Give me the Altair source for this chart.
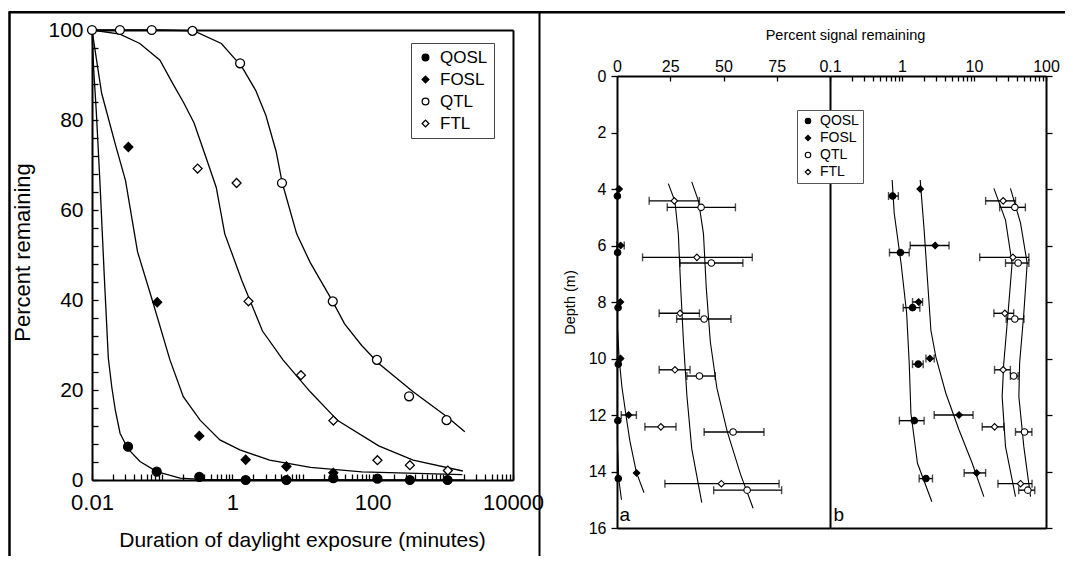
import altair as alt
import pandas as pd

FONT = "Liberation Sans"
W, H = 1057, 548

SERIES = ["QOSL", "FOSL", "QTL", "FTL"]
SHAPES = ["circle", "diamond", "circle", "diamond"]
FILLS = ["black", "black", "white", "white"]
STROKES = ["black", "black", "black", "black"]

# ---------------- left plot: bleaching vs daylight exposure ----------------
qosl_cx = [0.01, 0.0105, 0.0115, 0.0129, 0.015, 0.0171, 0.0192, 0.0215, 0.0251, 0.0326, 0.0483, 0.0836, 0.18, 0.4, 2000]
qosl_cy = [100, 92, 82, 67, 45, 27, 20.5, 15.5, 10.4, 6.9, 4.1, 1.85, 0.4, 0.1, 0]
fosl_cx = [0.01, 0.0137, 0.0215, 0.030, 0.0446, 0.0738, 0.129, 0.2, 0.347, 0.665, 1.28, 3.4, 13, 70, 1900]
fosl_cy = [100, 86, 74.6, 66.6, 50.7, 39.5, 26.7, 18.5, 13.3, 8.9, 6.7, 4.4, 2.8, 1.8, 1.2]
ftl_cx = [0.01, 0.025, 0.048, 0.093, 0.145, 0.2, 0.284, 0.445, 0.59, 0.78, 1.37, 2.69, 5.27, 12.9, 31.8, 122, 377, 1930]
ftl_cy = [100, 99.1, 97, 93.3, 87.8, 84, 79.4, 70.6, 65, 54.7, 44.3, 33.1, 26.7, 19.6, 13.2, 7.6, 4.4, 2.0]
qtl_cx = [0.01, 0.1, 0.284, 0.698, 1.37, 2.15, 3.01, 4.21, 5.15, 8.26, 12.9, 26.9, 39.8, 69.8, 122, 377, 1156, 2057]
qtl_cy = [100, 100, 99.8, 97, 91.8, 86.6, 81, 73, 66, 54.7, 48.3, 39.7, 34.7, 29.9, 25.9, 19.6, 14, 10.7]

qosl_px = [0.0326, 0.0836, 0.338, 1.55, 5.9, 27.5, 117, 339, 1167]
qosl_py = [7.4, 1.85, 0.7, 0, 0, 0.4, 0.3, 0, 0]
fosl_px = [0.033, 0.085, 0.338, 1.55, 5.9, 27.5]
fosl_py = [74, 39.5, 9.8, 4.5, 3.0, 1.6]
qtl_px = [0.01, 0.025, 0.071, 0.27, 1.29, 5.1, 27, 115, 330, 1130]
qtl_py = [100, 100, 100, 99.8, 92.6, 66, 39.7, 26.7, 18.6, 13.3]
ftl_px = [0.32, 1.15, 1.7, 9.5, 27.5, 117, 339, 1180]
ftl_py = [69.2, 66, 39.7, 23.3, 13.2, 4.4, 3.3, 2.1]

left_x_labels = [0.01, 1, 100, 10000]
left_y_labels = [0, 20, 40, 60, 80, 100]
left_y_minor = list(range(0, 101, 4))
left_x_minor = [m * 10.0 ** e for e in range(-2, 4) for m in range(1, 10)] + [10000]

# ---------------- right plots: depth profiles ----------------
depth_labels = list(range(0, 17, 2))
a_labels = [0, 25, 50, 75]
b_labels = [0.1, 1, 10, 100]
b_minor = [m * 10.0 ** e for e in range(-1, 2) for m in range(1, 10)] + [100]

d_qosl = [4.25, 6.25, 8.2, 10.2, 12.2, 14.25]
d_fosl = [4.0, 6.0, 8.0, 10.0, 12.0, 14.05]
d_ftl = [4.42, 6.42, 8.4, 10.4, 12.42, 14.43]
d_qtl = [4.65, 6.62, 8.6, 10.62, 12.6, 14.66]

# panel a (linear %)
a_qosl = [0.2, 0.3, 0.5, 0.6, 0.4, 0.6]
a_fosl = [1.0, 1.7, 1.6, 1.7, 5.5, 9.2]
a_qtl = [39.5, 44.3, 40.9, 38.7, 54.5, 61.1]
a_ftl = [26.9, 37.5, 29.6, 27.2, 20.6, 49.0]
a_err_fosl = [(6.0, 0.0, 3.4), (12.0, 2.0, 9.1)]
a_err_qtl = [(4.65, 23.6, 55.6), (6.62, 29.6, 59.1), (8.6, 28.0, 53.5), (10.62, 32.8, 46.1), (12.6, 40.9, 69.0), (14.66, 45.4, 77.3)]
a_err_ftl = [(4.42, 15.1, 38.7), (6.42, 12.0, 63.5), (8.4, 19.8, 38.7), (10.4, 19.8, 34.3), (12.42, 13.1, 27.7), (14.43, 22.5, 76.1)]

a_c_qosl_d = [4, 6, 8, 10, 12, 13, 14.25, 15]
a_c_qosl_v = [0.1, 0.1, 0.1, 0.1, 0.1, 0.2, 0.8, 2.1]
a_c_fosl_d = [9, 10, 11, 12, 12.9, 14.03, 14.75]
a_c_fosl_v = [0.3, 1.0, 2.3, 4.2, 6.0, 9.1, 12.7]
a_c_ftl_d = [3.81, 4.44, 5.59, 7.49, 9.4, 11.3, 13.2, 15.1]
a_c_ftl_v = [24.1, 27.2, 28.8, 29.9, 31.2, 32.8, 35.1, 39.8]
a_c_qtl_d = [3.75, 4.44, 5.59, 7.49, 9.4, 11.05, 12.57, 14.1, 15.3]
a_c_qtl_v = [35.1, 38.3, 40.6, 41.9, 43.8, 46.9, 51.7, 58, 63.9]

# panel b (log %)
b_qosl = [0.74, 0.95, 1.40, 1.68, 1.48, 2.15]
b_fosl = [1.79, 2.89, 1.70, 2.44, 6.2, 10.9]
b_qtl = [36.9, 41, 36.9, 35.6, 50.3, 55.9]
b_ftl = [25.4, 34.7, 26.8, 25.4, 19.3, 44.3]
b_err_qosl = [(4.25, 0.65, 0.89), (6.25, 0.67, 1.26), (8.2, 1.04, 1.77), (10.2, 1.40, 1.97), (12.2, 0.92, 2.03), (14.25, 1.73, 2.65)]
b_err_fosl = [(6.0, 1.3, 4.5), (8.0, 1.40, 1.93), (10.0, 2.15, 2.80), (12.0, 2.8, 9.7), (14.05, 7.3, 14.5)]
b_err_qtl = [(4.65, 22.7, 51.7), (6.62, 27.4, 57.8), (8.6, 28, 49.4), (10.62, 32, 41), (12.6, 37.7, 63.7), (14.66, 41.8, 69.8)]
b_err_ftl = [(4.42, 14.5, 37.7), (6.42, 12, 57.8), (8.4, 18.9, 35.6), (10.4, 19.3, 32), (12.42, 13, 26), (14.43, 21.5, 64)]

b_c_qosl_d = [3.68, 4.86, 6.63, 8.4, 10.17, 11.94, 13.71, 15.07]
b_c_qosl_v = [0.73, 0.78, 0.97, 1.16, 1.26, 1.33, 1.64, 2.6]
b_c_fosl_d = [3.68, 5.45, 7.22, 9.0, 9.94, 11.23, 12.53, 13.71, 14.89]
b_c_fosl_v = [1.79, 2.03, 2.26, 2.52, 2.95, 4.06, 6.2, 9.45, 13.7]
b_c_ftl_d = [3.98, 5.1, 6.63, 8.4, 10.17, 11.35, 13.12, 14.89]
b_c_ftl_v = [18.9, 27.4, 33.8, 29.7, 25.9, 24.6, 27.4, 37.7]
b_c_qtl_d = [3.98, 5.21, 6.63, 8.4, 10.17, 11.35, 13.12, 14.89]
b_c_qtl_v = [32.1, 44.3, 54.8, 49.2, 43, 42, 49.2, 61]

panel_tags = ["a", "b"]
tag_a_pos = (3.6, 15.54)
tag_b_pos = (0.132, 15.54)

# ---------------- tables ----------------
def long_xy(d, xname, yname):
    rows = []
    for s, (xs, ys) in d.items():
        for i, (a, b) in enumerate(zip(xs, ys)):
            rows.append({"series": s, xname: a, yname: b, "i": i})
    return pd.DataFrame(rows)

lc = long_xy({"QOSL": (qosl_cx, qosl_cy), "FOSL": (fosl_cx, fosl_cy),
              "QTL": (qtl_cx, qtl_cy), "FTL": (ftl_cx, ftl_cy)}, "x", "y")
lp = long_xy({"QOSL": (qosl_px, qosl_py), "FOSL": (fosl_px, fosl_py),
              "QTL": (qtl_px, qtl_py), "FTL": (ftl_px, ftl_py)}, "x", "y")

ac = long_xy({"QOSL": (a_c_qosl_v, a_c_qosl_d), "FOSL": (a_c_fosl_v, a_c_fosl_d),
              "QTL": (a_c_qtl_v, a_c_qtl_d), "FTL": (a_c_ftl_v, a_c_ftl_d)}, "v", "d")
bc = long_xy({"QOSL": (b_c_qosl_v, b_c_qosl_d), "FOSL": (b_c_fosl_v, b_c_fosl_d),
              "QTL": (b_c_qtl_v, b_c_qtl_d), "FTL": (b_c_ftl_v, b_c_ftl_d)}, "v", "d")
ap = long_xy({"QOSL": (a_qosl, d_qosl), "FOSL": (a_fosl, d_fosl),
              "QTL": (a_qtl, d_qtl), "FTL": (a_ftl, d_ftl)}, "v", "d")
bp = long_xy({"QOSL": (b_qosl, d_qosl), "FOSL": (b_fosl, d_fosl),
              "QTL": (b_qtl, d_qtl), "FTL": (b_ftl, d_ftl)}, "v", "d")

def err_df(lists):
    rows = []
    for lst in lists:
        for d, lo, hi in lst:
            rows.append({"d": d, "lo": lo, "hi": hi})
    return pd.DataFrame(rows)

ae = err_df([a_err_fosl, a_err_qtl, a_err_ftl])
be = err_df([b_err_qosl, b_err_fosl, b_err_qtl, b_err_ftl])

def caps(df):
    return pd.concat([df[["d"]].assign(xv=df["lo"]), df[["d"]].assign(xv=df["hi"])], ignore_index=True)

aecap = caps(ae)
becap = caps(be)

tags_a = pd.DataFrame({"t": [panel_tags[0]], "v": [tag_a_pos[0]], "d": [tag_a_pos[1]]})
tags_b = pd.DataFrame({"t": [panel_tags[1]], "v": [tag_b_pos[0]], "d": [tag_b_pos[1]]})
frame = pd.DataFrame({"f": [0, 1]})

# ---------------- helpers ----------------
def ax(**kw):
    base = dict(grid=False, labelFlush=False, labelOverlap=False, domainColor="black",
                tickColor="black", labelColor="black", titleColor="black",
                labelFont=FONT, titleFont=FONT, titleFontWeight="normal",
                domainWidth=2, tickWidth=1.3, title=None)
    base.update(kw)
    return alt.Axis(**base)

def LX():
    return alt.Scale(type="log", domain=[0.01, 10000], range=[84, 505], nice=False)

def LY():
    return alt.Scale(domain=[0, 100], range=[472, 22], nice=False, zero=False)

def AX():
    return alt.Scale(domain=[0, 100], range=[609, 822], nice=False, zero=False)

def BX():
    return alt.Scale(type="log", domain=[0.1, 100], range=[822, 1038], nice=False)

def DY():
    return alt.Scale(domain=[0, 16], range=[68, 520], nice=False, zero=False)

shape_scale = lambda: alt.Scale(domain=SERIES, range=SHAPES)
fill_scale = lambda: alt.Scale(domain=SERIES, range=FILLS)
stroke_scale = lambda: alt.Scale(domain=SERIES, range=STROKES)

LEG_L = alt.Legend(title=None, orient="none", legendX=403, legendY=35, labelFontSize=17,
                   labelFont=FONT, labelColor="black", symbolSize=45, rowPadding=4,
                   padding=6, strokeColor="#444", fillColor="white",
                   symbolStrokeWidth=1.3, labelOffset=6)
LEG_R = alt.Legend(title=None, orient="none", legendX=789, legendY=102, labelFontSize=14,
                   labelFont=FONT, labelColor="black", symbolSize=30, rowPadding=3,
                   padding=4, strokeColor="#555", fillColor="white",
                   symbolStrokeWidth=1.1, labelOffset=5)

layers = []

# outer frame lines
layers.append(alt.Chart(frame).mark_point(opacity=0).encode(
    x=alt.X("f:Q", scale=alt.Scale(domain=[0, 1], range=[0, W], nice=False),
            axis=ax(orient="top", offset=-3.7, labels=False, ticks=False, domainWidth=2.5)),
    y=alt.Y("f:Q", scale=alt.Scale(domain=[0, 1], range=[3.7, 560], nice=False),
            axis=ax(orient="left", offset=-1, labels=False, ticks=False, domainWidth=2.5)),
))
layers.append(alt.Chart(frame).mark_point(opacity=0).encode(
    x=alt.X("f:Q", scale=alt.Scale(domain=[0, 1], range=[0, W], nice=False), axis=None),
    y=alt.Y("f:Q", scale=alt.Scale(domain=[0, 1], range=[3.7, 560], nice=False),
            axis=ax(orient="right", offset=531 - W, labels=False, ticks=False, domainWidth=2)),
))

# left plot frame (top, right)
layers.append(alt.Chart(lp).mark_point(opacity=0).encode(
    x=alt.X("x:Q", scale=LX(), axis=ax(orient="top", offset=-22, labels=False, ticks=False)),
    y=alt.Y("y:Q", scale=LY(), axis=ax(orient="right", offset=505 - W, labels=False, ticks=False)),
))
# left curves + inward ticks
layers.append(alt.Chart(lc).mark_line(color="black", strokeWidth=1.3).encode(
    x=alt.X("x:Q", scale=LX(), axis=ax(orient="top", offset=-472, values=left_x_minor,
                                       labels=False, domain=False, tickSize=6)),
    y=alt.Y("y:Q", scale=LY(), axis=ax(orient="right", offset=84 - W, values=left_y_minor,
                                       labels=False, domain=False, tickSize=6)),
    detail="series:N", order="i:Q",
))
# left points + main axes + legend
layers.append(alt.Chart(lp).mark_point(filled=True, strokeWidth=1.3, size=80, opacity=1).encode(
    x=alt.X("x:Q", scale=LX(), axis=ax(orient="bottom", offset=472 - H, values=left_x_labels,
                                       format="~g", ticks=False, tickSize=0, labelPadding=12,
                                       labelFontSize=22,
                                       title="Duration of daylight exposure (minutes)",
                                       titleFontSize=21, titleX=294, titleY=60,
                                       titleBaseline="middle", titleAlign="center")),
    y=alt.Y("y:Q", scale=LY(), axis=ax(orient="left", offset=-84, values=left_y_labels,
                                       ticks=False, tickSize=0, labelPadding=9, labelFontSize=21,
                                       title="Percent remaining", titleFontSize=22,
                                       titleX=-70, titleY=244, titleBaseline="middle",
                                       titleAlign="center")),
    shape=alt.Shape("series:N", scale=shape_scale(), legend=LEG_L),
    fill=alt.Fill("series:N", scale=fill_scale(), legend=LEG_L),
    stroke=alt.Stroke("series:N", scale=stroke_scale(), legend=LEG_L),
))

# ---- panel a ----
layers.append(alt.Chart(ac).mark_line(color="black", strokeWidth=1.1).encode(
    x=alt.X("v:Q", scale=AX(), axis=ax(orient="top", offset=-68, values=a_labels, ticks=False,
                                      tickSize=0, labelPadding=2, labelFontSize=16,
                                      title="Percent signal remaining", titleFontSize=14.5,
                                      titleX=837, titleY=-41, titleBaseline="middle",
                                      titleAlign="center")),
    y=alt.Y("d:Q", scale=DY(), axis=ax(orient="left", offset=-609, values=depth_labels,
                                      tickSize=6, labelPadding=5, labelFontSize=16,
                                      title="Depth (m)", titleFontSize=14.5, titleX=-47,
                                      titleY=294, titleBaseline="middle", titleAlign="center")),
    detail="series:N", order="i:Q",
))
layers.append(alt.Chart(ae).mark_rule(color="black", strokeWidth=1.4).encode(
    x=alt.X("lo:Q", scale=AX(), axis=ax(orient="bottom", offset=68 - H, values=[25, 50, 75],
                                       labels=False, domain=False, tickSize=5)),
    x2="hi:Q",
    y=alt.Y("d:Q", scale=DY(), axis=None),
))
layers.append(alt.Chart(aecap).mark_tick(orient="vertical", size=8, thickness=1.4, color="black").encode(
    x=alt.X("xv:Q", scale=AX(), axis=ax(orient="bottom", offset=520 - H, labels=False, ticks=False)),
    y=alt.Y("d:Q", scale=DY(), axis=None),
))
layers.append(alt.Chart(ap).mark_point(filled=True, strokeWidth=1.1, size=42, opacity=1).encode(
    x=alt.X("v:Q", scale=AX(), axis=None),
    y=alt.Y("d:Q", scale=DY(), axis=None),
    shape=alt.Shape("series:N", scale=shape_scale(), legend=None),
    fill=alt.Fill("series:N", scale=fill_scale(), legend=None),
    stroke=alt.Stroke("series:N", scale=stroke_scale(), legend=None),
))
layers.append(alt.Chart(tags_a).mark_text(font=FONT, fontSize=19, color="black").encode(
    x=alt.X("v:Q", scale=AX(), axis=None),
    y=alt.Y("d:Q", scale=DY(), axis=None),
    text="t:N",
))

# ---- panel b ----
layers.append(alt.Chart(bc).mark_line(color="black", strokeWidth=1.1).encode(
    x=alt.X("v:Q", scale=BX(), axis=ax(orient="top", offset=-68, values=b_labels, format="~g",
                                      ticks=False, tickSize=0, labelPadding=2, labelFontSize=16)),
    y=alt.Y("d:Q", scale=DY(), axis=ax(orient="right", offset=1038 - W, values=depth_labels,
                                      labels=False, tickSize=6)),
    detail="series:N", order="i:Q",
))
layers.append(alt.Chart(be).mark_rule(color="black", strokeWidth=1.4).encode(
    x=alt.X("lo:Q", scale=BX(), axis=ax(orient="bottom", offset=68 - H, values=b_minor,
                                       labels=False, domain=False, tickSize=5)),
    x2="hi:Q",
    y=alt.Y("d:Q", scale=DY(), axis=ax(orient="left", offset=-822, labels=False, ticks=False)),
))
layers.append(alt.Chart(becap).mark_tick(orient="vertical", size=8, thickness=1.4, color="black").encode(
    x=alt.X("xv:Q", scale=BX(), axis=ax(orient="bottom", offset=520 - H, labels=False, ticks=False)),
    y=alt.Y("d:Q", scale=DY(), axis=None),
))
layers.append(alt.Chart(bp).mark_point(filled=True, strokeWidth=1.1, size=42, opacity=1).encode(
    x=alt.X("v:Q", scale=BX(), axis=None),
    y=alt.Y("d:Q", scale=DY(), axis=None),
    shape=alt.Shape("series:N", scale=shape_scale(), legend=LEG_R),
    fill=alt.Fill("series:N", scale=fill_scale(), legend=LEG_R),
    stroke=alt.Stroke("series:N", scale=stroke_scale(), legend=LEG_R),
))
layers.append(alt.Chart(tags_b).mark_text(font=FONT, fontSize=19, color="black").encode(
    x=alt.X("v:Q", scale=BX(), axis=None),
    y=alt.Y("d:Q", scale=DY(), axis=None),
    text="t:N",
))

chart = alt.layer(*layers).resolve_scale(
    x="independent", y="independent", shape="independent", fill="independent",
    stroke="independent",
).properties(
    width=W, height=H, padding=0, autosize=alt.AutoSizeParams(type="none"),
    background="white",
).configure_view(strokeWidth=0).configure_text(font=FONT)

chart.save("out.html", embed_options={"renderer": "svg", "actions": False})
